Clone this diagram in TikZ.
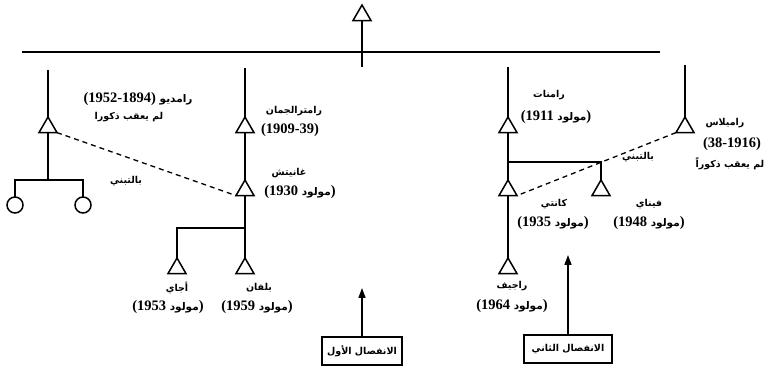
\documentclass[tikz,border=0pt]{standalone}
\usepackage{fontspec}
\setmainfont{Liberation Serif}
\newfontfamily\arabicfont[Script=Arabic,UprightFont={* Bold}]{DejaVu Sans}
\TeXXeTstate=1
\usetikzlibrary{shapes.geometric,arrows.meta}
\newcommand\ar[1]{\hbox{\arabicfont\beginR #1\endR}}
\newcommand\arm[1]{\hbox{\arabicfont\fontsize{10.5}{12}\selectfont\beginR #1\endR}}
\begin{document}
\begin{tikzpicture}[x=1pt,y=-1pt,
  ln/.style={line width=1.5pt},
  dsh/.style={line width=1.3pt,dash pattern=on 5pt off 4pt},
  tri/.style={draw,line width=1.5pt,regular polygon,regular polygon sides=3,minimum size=20.8pt,inner sep=0pt,outer sep=0pt,fill=white},
  circ/.style={draw,line width=1.5pt,circle,minimum size=16pt,inner sep=0pt,outer sep=0pt},
  date/.style={inner sep=0pt,font=\fontsize{14.5}{16}\selectfont\bfseries},
  nm/.style={inner sep=0pt,font=\fontsize{9.5}{11}\selectfont},
  bx/.style={draw,line width=1.5pt,minimum width=80pt,minimum height=28pt,inner sep=0pt,font=\fontsize{9.5}{11}\selectfont},
  arr/.style={line width=1.5pt,-{Triangle[width=7pt,length=10pt]}}]
\useasboundingbox (0,0) rectangle (771,371);
% coordinates
\coordinate (hl) at (22,52);
\coordinate (hr) at (660,52);
\coordinate (stem) at (362,67);
\coordinate (cA) at (48,70);
\coordinate (cB) at (245,68);
\coordinate (cC) at (508,67);
\coordinate (cD) at (685,65);
\coordinate (jL) at (48,180);
\coordinate (jL1) at (15,180);
\coordinate (jL2) at (83,180);
\coordinate (jG) at (245,228);
\coordinate (jG2) at (177,228);
\coordinate (jR) at (508,162);
\coordinate (jR2) at (601,162);
% triangles and circles
\node[tri] (tTop) at (362,15.4) {};
\node[tri] (tRD) at (48,127.4) {};
\node[tri] (tRT) at (245,127.4) {};
\node[tri] (tGa) at (245,190.4) {};
\node[tri] (tAj) at (177,268.4) {};
\node[tri] (tBa) at (245,268.4) {};
\node[tri] (tRn) at (508,127.4) {};
\node[tri] (tRm) at (685,127.4) {};
\node[tri] (tKa) at (508,190.4) {};
\node[tri] (tFi) at (601,190.4) {};
\node[tri] (tRj) at (508,268.4) {};
\node[circ] (c1) at (15,205) {};
\node[circ] (c2) at (83,205) {};
% lines
\draw[line width=1.6pt] (hl) -- (hr);
\draw[ln] (tTop.south) -- (stem);
\draw[ln] (cA) -- (tRD.north);
\draw[ln] (tRD.south) -- (jL);
\draw[ln] (c1.north) -- (jL1) -- (jL2) -- (c2.north);
\draw[ln] (cB) -- (tRT.north);
\draw[ln] (tRT.south) -- (tGa.north);
\draw[ln] (tGa.south) -- (tBa.north);
\draw[ln] (jG) -- (jG2) -- (tAj.north);
\draw[ln] (cC) -- (tRn.north);
\draw[ln] (tRn.south) -- (tKa.north);
\draw[ln] (tKa.south) -- (tRj.north);
\draw[ln] (jR) -- (jR2) -- (tFi.north);
\draw[ln] (cD) -- (tRm.north);
\draw[dsh] (tRD.corner 3) -- (tGa.corner 2);
\draw[dsh] (tRm.corner 2) -- (tKa.corner 3);
% boxes and arrows
\node[bx] (b1) at (362,351) {\ar{الانفصال الأول}};
\node[bx,minimum width=88pt] (b2) at (568,349) {\ar{الانفصال الثاني}};
\coordinate (a1) at (362,288);
\coordinate (a2) at (568,255);
\draw[arr] (b1.north) -- (a1);
\draw[arr] (b2.north) -- (a2);
% labels
\node[date] (lRD) at (138,99) {(1952-1894)\ \arm{رامديو}};
\node[nm] (lRD2) at (129,117) {\ar{لم يعقب ذكورا}};
\node[nm] (lRT) at (294,111) {\ar{رامترالجمان}};
\node[date] (lRT2) at (290,130) {(1909-39)};
\node[nm] (lT1) at (126,181) {\ar{بالتبني}};
\node[nm] (lGa) at (289,173) {\ar{غانيتش}};
\node[date] (lGa2) at (300,192) {(1930\ \arm{مولود})};
\node[nm] (lAj) at (177,288) {\ar{أجاي}};
\node[date] (lAj2) at (168,307) {(1953\ \arm{مولود})};
\node[nm] (lBa) at (259,288) {\ar{بلفان}};
\node[date] (lBa2) at (257,307) {(1959\ \arm{مولود})};
\node[nm] (lRn) at (549,95) {\ar{رامنات}};
\node[date] (lRn2) at (556,117) {(1911\ \arm{مولود})};
\node[nm] (lRm) at (725,123) {\ar{راميلاس}};
\node[date] (lRm2) at (732,144) {(38-1916)};
\node[nm] (lRm3) at (730,164) {\ar{لم يعقب ذكوراً}};
\node[nm] (lT2) at (638,157) {\ar{بالتبني}};
\node[nm] (lKa) at (554,204) {\ar{كانتي}};
\node[date] (lKa2) at (553,223) {(1935\ \arm{مولود})};
\node[nm] (lFi) at (649,204) {\ar{فيناي}};
\node[date] (lFi2) at (649,223) {(1948\ \arm{مولود})};
\node[nm] (lRj) at (512,286) {\ar{راجيف}};
\node[date] (lRj2) at (512,306) {(1964\ \arm{مولود})};
\end{tikzpicture}
\end{document}
